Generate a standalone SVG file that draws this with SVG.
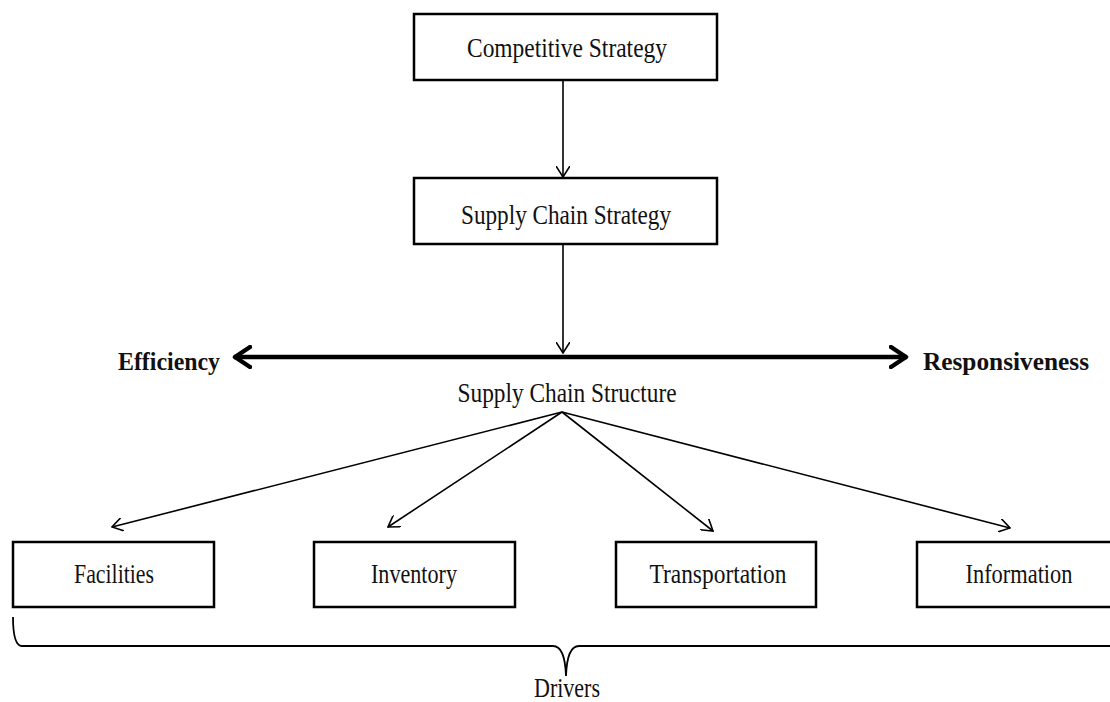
<svg xmlns="http://www.w3.org/2000/svg" width="1110" height="702" viewBox="0 0 1110 702">
<style>
.box{fill:#fff;stroke:#000;stroke-width:2.5}
.t{font-family:"Liberation Serif","Times New Roman",serif;font-size:27px;fill:#111;text-anchor:middle}
.b{font-family:"Liberation Serif","Times New Roman",serif;font-size:26px;font-weight:bold;fill:#111}
.ln{stroke:#000;stroke-width:1.6;fill:none}
.thick{stroke:#000;stroke-width:4.5;fill:none}
</style>
<defs>
<marker id="ah" viewBox="0 0 12 14" refX="11" refY="7" markerWidth="12" markerHeight="14" markerUnits="userSpaceOnUse" orient="auto">
<path d="M0,0 L11,7 L0,14" fill="none" stroke="#000" stroke-width="1.6"/>
</marker>
<marker id="thk" viewBox="0 0 20 24" refX="18" refY="12" markerWidth="20" markerHeight="24" markerUnits="userSpaceOnUse" orient="auto-start-reverse">
<path d="M2,2 L17,12 L2,22" fill="none" stroke="#000" stroke-width="4.5" stroke-linecap="round" stroke-linejoin="round"/>
</marker>
</defs>
<rect width="1110" height="702" fill="#fff"/>
<g id="connectors">
<line class="ln" x1="563" y1="80" x2="563" y2="177" marker-end="url(#ah)"/>
<line class="ln" x1="563" y1="245" x2="563" y2="353" marker-end="url(#ah)"/>
<line class="thick" x1="234" y1="357" x2="907" y2="357" marker-start="url(#thk)" marker-end="url(#thk)"/>
<line class="ln" x1="562" y1="412" x2="112" y2="527" marker-end="url(#ah)"/>
<line class="ln" x1="562" y1="412" x2="388" y2="527" marker-end="url(#ah)"/>
<line class="ln" x1="562" y1="412" x2="713" y2="531" marker-end="url(#ah)"/>
<line class="ln" x1="562" y1="412" x2="1010" y2="528" marker-end="url(#ah)"/>
</g>
<g id="competitive-strategy">
<rect class="box" x="414" y="14" width="303" height="66"/>
<text class="t" x="567" y="57" textLength="200" lengthAdjust="spacingAndGlyphs">Competitive Strategy</text>
</g>
<g id="supply-chain-strategy">
<rect class="box" x="414" y="178" width="303" height="66"/>
<text class="t" x="566" y="224" textLength="210" lengthAdjust="spacingAndGlyphs">Supply Chain Strategy</text>
</g>
<g id="efficiency">
<text class="b" x="118" y="370" textLength="102" lengthAdjust="spacingAndGlyphs">Efficiency</text>
</g>
<g id="responsiveness">
<text class="b" x="923" y="370" textLength="166" lengthAdjust="spacingAndGlyphs">Responsiveness</text>
</g>
<g id="supply-chain-structure">
<text class="t" x="567" y="402" textLength="219" lengthAdjust="spacingAndGlyphs">Supply Chain Structure</text>
</g>
<g id="facilities">
<rect class="box" x="13" y="542" width="201" height="65"/>
<text class="t" x="114" y="583" textLength="80" lengthAdjust="spacingAndGlyphs">Facilities</text>
</g>
<g id="inventory">
<rect class="box" x="314" y="542" width="201" height="65"/>
<text class="t" x="414" y="583" textLength="86" lengthAdjust="spacingAndGlyphs">Inventory</text>
</g>
<g id="transportation">
<rect class="box" x="616" y="542" width="200" height="65"/>
<text class="t" x="718" y="583" textLength="137" lengthAdjust="spacingAndGlyphs">Transportation</text>
</g>
<g id="information">
<rect class="box" x="917" y="542" width="210" height="65"/>
<text class="t" x="1019" y="583" textLength="107" lengthAdjust="spacingAndGlyphs">Information</text>
</g>
<g id="drivers">
<path d="M13,617 Q13,646 22,646 L553,646 Q565,646 566,676 Q567,646 579,646 L1115,646" fill="none" stroke="#000" stroke-width="1.8"/>
<text class="t" x="567" y="697" textLength="66" lengthAdjust="spacingAndGlyphs">Drivers</text>
</g>
</svg>
